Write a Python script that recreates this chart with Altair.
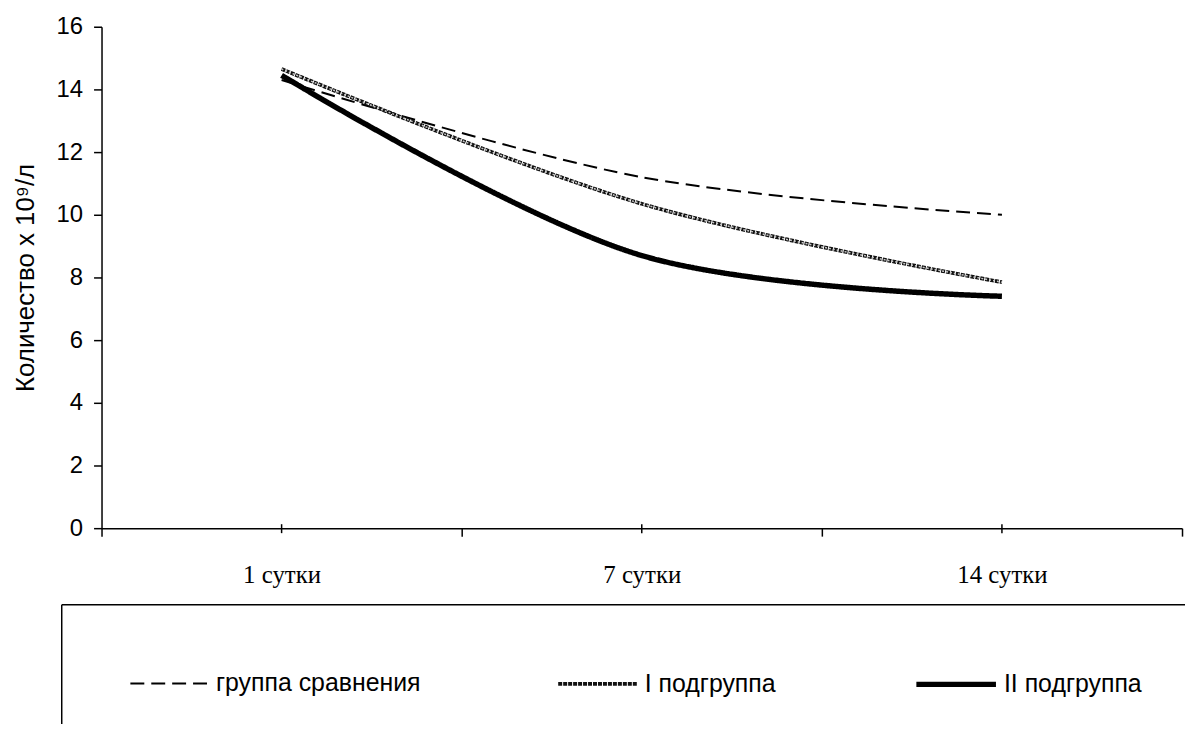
import altair as alt
import pandas as pd

categories = ["1 сутки", "7 сутки", "14 сутки"]
series = ["группа сравнения", "I подгруппа", "II подгруппа"]
comparison = [14.3, 11.2, 10.0]
subgroup1 = [14.65, 10.35, 7.85]
subgroup2 = [14.45, 8.7, 7.4]
y_ticks = [0, 2, 4, 6, 8, 10, 12, 14, 16]

rows = []
for name, vals in zip(series, [comparison, subgroup1, subgroup2]):
    for c, v in zip(categories, vals):
        rows.append({"day": c, "series": name, "value": v})
df = pd.DataFrame(rows)
cat_df = pd.DataFrame({"day": categories})
one_df = pd.DataFrame({"k": [0]})

SANS = "Liberation Sans"
SERIF = "Liberation Serif"

x_enc = alt.X(
    "day:N", sort=categories, bandPosition=0.5,
    scale=alt.Scale(type="band", domain=categories, paddingInner=0, paddingOuter=0),
    axis=alt.Axis(title=None, tickBand="extent", tickSize=8, tickColor="black", tickWidth=1.5,
                  domainColor="black", domainWidth=1.5, labelFont=SERIF, labelFontSize=25,
                  labelColor="black", labelPadding=27, labelAngle=0, grid=False),
)
y_enc = alt.Y(
    "value:Q",
    scale=alt.Scale(domain=[0, 16], nice=False, zero=True),
    axis=alt.Axis(values=y_ticks, title="Количество х 10⁹/л", titleFont=SANS, titleFontSize=26,
                  titleFontWeight="normal", titleColor="black", titlePadding=18,
                  labelFont=SANS, labelFontSize=24, labelColor="black", labelPadding=11,
                  tickSize=8, tickColor="black", tickWidth=1.5, domainColor="black",
                  domainWidth=1.5, grid=False),
)

legend = alt.Legend(
    title=None, orient="none", legendX=28, legendY=618, direction="horizontal",
    symbolType="stroke", symbolSize=6400, labelFont=SANS, labelFontSize=25,
    labelColor="black", labelOffset=5, labelLimit=500, columnPadding=130,
    padding=0,
)

lines = alt.Chart(df).mark_line(interpolate="catmull-rom").encode(
    x=x_enc,
    y=y_enc,
    color=alt.Color("series:N", scale=alt.Scale(domain=series, range=["#000000", "#111111", "#000000"]), legend=legend),
    strokeDash=alt.StrokeDash("series:N", scale=alt.Scale(domain=series, range=[[14, 7], [4, 1], [1, 0]]), legend=legend),
    strokeWidth=alt.StrokeWidth("series:N", scale=alt.Scale(domain=series, range=[2, 5.5, 3]), legend=legend),
)

overlay = alt.Chart(df).transform_filter(
    alt.datum.series == series[1]
).mark_line(interpolate="catmull-rom", color="#c8c8c8", strokeWidth=1.5, strokeDash=[2, 2]).encode(
    x=x_enc, y=y_enc,
)

cat_ticks = alt.Chart(cat_df).mark_rule(color="black", strokeWidth=1.5).encode(
    x=x_enc, y=alt.value(500), y2=alt.value(509),
)

box_top = alt.Chart(one_df).mark_rule(color="black", strokeWidth=1.5).encode(
    x=alt.value(-40), x2=alt.value(1100), y=alt.value(581),
)
box_left = alt.Chart(one_df).mark_rule(color="black", strokeWidth=1.5).encode(
    x=alt.value(-40), y=alt.value(581), y2=alt.value(720),
)

chart = alt.layer(lines, overlay, cat_ticks, box_top, box_left).properties(
    width=1086, height=504,
    padding={"left": 94, "top": 17, "right": 3, "bottom": 195},
    autosize=alt.AutoSizeParams(type="none"),
    background="white",
).configure_view(stroke=None)

chart.save("out.html", embed_options={"renderer": "svg", "actions": False})
